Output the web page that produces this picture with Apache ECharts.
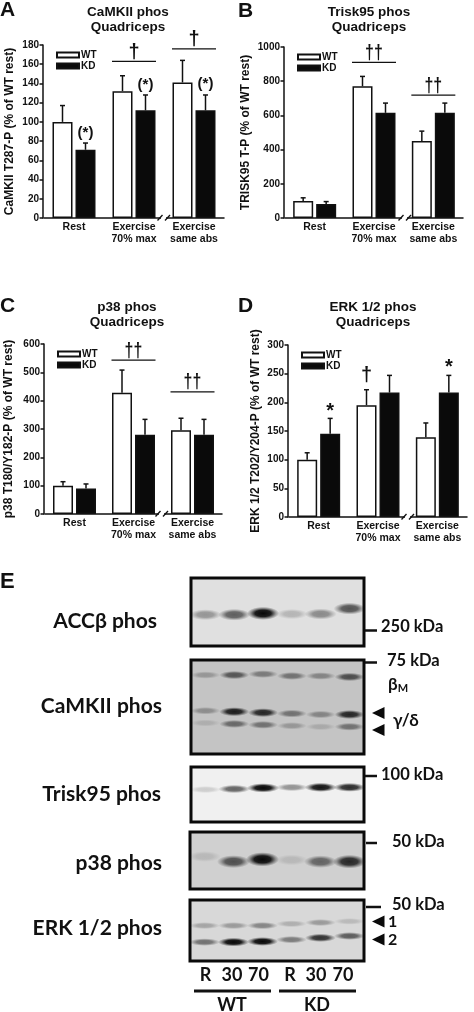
<!DOCTYPE html>
<html>
<head>
<meta charset="utf-8">
<style>html,body{margin:0;padding:0;background:#fff}#c{width:474px;height:1012px}</style>
<script src="https://cdn.jsdelivr.net/npm/echarts@6/dist/echarts.min.js"></script>
</head>
<body>
<div id="c"></div>
<script>
// ---------- bar chart data ----------
const groupLabels = ['Rest', 'Exercise\n70% max', 'Exercise\nsame abs'];

const aWT = [100, 132, 141], aKD = [71, 112, 112];
const aWTerr = [117, 148, 164], aKDerr = [78, 128, 128];
const bWT = [100, 770, 450], bKD = [82, 615, 615];
const bWTerr = [118, 828, 508], bKDerr = [96, 672, 672];
const cWT = [100, 428, 296], cKD = [90, 280, 280];
const cWTerr = [114, 508, 338], cKDerr = [106, 334, 334];
const dWT = [100, 195, 139], dKD = [145, 217, 217];
const dWTerr = [112, 222, 164], dKDerr = [172, 247, 247];

// significance lines: [group, value, text]
const aLines = [[1, 163, '†'], [2, 176, '†']];
const bLines = [[1, 910, '††'], [2, 719, '††']];
const cLines = [[1, 543, '††'], [2, 431, '††']];
const dLines = [];
// marks over a bar: [group, side, value, text]
const aMarks = [[0, 1, 89, '(*)'], [1, 1, 139, '(*)'], [2, 1, 140, '(*)']];
const bMarks = [];
const cMarks = [];
const dMarks = [[0, 1, 190, '*'], [1, -1, 246, '†'], [2, 1, 266, '*']];

// ---------- blot data: one row per band row, six lanes ----------
const laneLabels = ['R', '30', '70', 'R', '30', '70'];
const accPos = [46, 46, 48, 47, 47, 55];
const accInt = [0.35, 0.6, 1, 0.2, 0.4, 0.65];
const camTopPos = [84, 84, 85, 83, 83, 82];
const camTopInt = [0.25, 0.6, 0.4, 0.45, 0.35, 0.65];
const camMidPos = [46, 45, 44, 43, 42, 42];
const camMidInt = [0.3, 0.9, 0.85, 0.45, 0.35, 0.85];
const camLowPos = [33, 32, 31, 30, 29, 29];
const camLowInt = [0.12, 0.5, 0.45, 0.25, 0.15, 0.45];
const triskPos = [59, 60, 62, 63, 63, 63];
const triskInt = [0.15, 0.6, 1, 0.4, 0.95, 0.85];
const p38Pos = [57, 48, 52, 51, 48, 48];
const p38Int = [0.12, 0.65, 1, 0.12, 0.55, 0.85];
const erkUpPos = [58, 58, 58, 61, 63, 65];
const erkUpInt = [0.25, 0.3, 0.4, 0.2, 0.3, 0.15];
const erkLowPos = [31, 31, 32, 35, 38, 41];
const erkLowInt = [0.5, 1, 1, 0.45, 0.8, 0.6];

// ---------- layout ----------
const AR = '"Liberation Sans", Arial, sans-serif';
const CAL = 'Lato, "Noto Sans", sans-serif';
const panels = [
  {g:{left:44, top:45, width:180, height:173}, max:180, step:20, name:'CaMKII T287-P (% of WT rest)', gap:27,
   wt:aWT, kd:aKD, we:aWTerr, ke:aKDerr, lines:aLines, marks:aMarks,
   leg:{left:56, top:50}, title:'CaMKII phos\nQuadriceps', tx:128, ty:5, letter:'A', lx:0, ly:3, brk:[164,218]},
  {g:{left:285, top:47, width:178, height:171}, max:1000, step:200, name:'TRISK95 T-P (% of WT rest)', gap:32,
   wt:bWT, kd:bKD, we:bWTerr, ke:bKDerr, lines:bLines, marks:bMarks,
   leg:{left:297, top:52}, title:'Trisk95 phos\nQuadriceps', tx:369, ty:5, letter:'B', lx:238, ly:4, brk:[405,218]},
  {g:{left:45, top:344, width:177, height:170}, max:600, step:100, name:'p38 T180/Y182-P (% of WT rest)', gap:29,
   wt:cWT, kd:cKD, we:cWTerr, ke:cKDerr, lines:cLines, marks:cMarks,
   leg:{left:57, top:349}, title:'p38 phos\nQuadriceps', tx:127, ty:300, letter:'C', lx:0, ly:299, brk:[162,514]},
  {g:{left:289, top:345, width:178, height:172}, max:300, step:50, name:'ERK 1/2 T202/Y204-P (% of WT rest)', gap:26,
   wt:dWT, kd:dKD, we:dWTerr, ke:dKDerr, lines:dLines, marks:dMarks,
   leg:{left:301, top:350}, title:'ERK 1/2 phos\nQuadriceps', tx:373, ty:300, letter:'D', lx:238, ly:299, brk:[408,517]}
];

const BAR_OFF = 11.5;

function errSeries(idx, vals, tops, side) {
  return {
    type:'custom', coordinateSystem:'cartesian2d', xAxisIndex:idx, yAxisIndex:idx, z:1, clip:false, silent:true,
    data: tops.map((t, i) => [i, t, vals[i]]),
    renderItem(params, api) {
      const top = api.coord([api.value(0), api.value(1)]);
      const base = api.coord([api.value(0), api.value(2)]);
      const x = top[0] + side * BAR_OFF;
      const st = {stroke:'#111', lineWidth:1.5, fill:null};
      return {type:'group', children:[
        {type:'line', shape:{x1:x, y1:base[1], x2:x, y2:top[1]}, style:st},
        {type:'line', shape:{x1:x-2.5, y1:top[1], x2:x+2.5, y2:top[1]}, style:st}
      ]};
    }
  };
}
function lineSeries(idx, rows) {
  return {
    type:'custom', coordinateSystem:'cartesian2d', xAxisIndex:idx, yAxisIndex:idx, z:3, clip:false, silent:true,
    data: rows.map(r => [r[0], r[1]]),
    renderItem(params, api) {
      const p = api.coord([api.value(0), api.value(1)]);
      const text = rows[params.dataIndex][2];
      return {type:'group', children:[
        {type:'line', shape:{x1:p[0]-22, y1:p[1], x2:p[0]+22, y2:p[1]}, style:{stroke:'#111', lineWidth:1.3, fill:null}},
        {type:'text', x:p[0], y:p[1]+1, scaleX:text.length > 1 ? 0.8 : 1, style:{text, fill:'#111', font:'bold 20px '+AR, align:'center', verticalAlign:'bottom'}}
      ]};
    }
  };
}
function markSeries(idx, rows) {
  return {
    type:'custom', coordinateSystem:'cartesian2d', xAxisIndex:idx, yAxisIndex:idx, z:3, clip:false, silent:true,
    data: rows.map(r => [r[0], r[2]]),
    renderItem(params, api) {
      const p = api.coord([api.value(0), api.value(1)]);
      const r = rows[params.dataIndex];
      const star = r[3] === '*';
      const big = r[3] === '*' || r[3] === '†';
      return {type:'text', x:p[0]+r[1]*BAR_OFF, y:p[1]+(star?3:0), style:{text:r[3], fill:'#111', font:'bold '+(big?20:15)+'px '+AR, align:'center', verticalAlign:'middle'}};
    }
  };
}

const grids = [], xAxes = [], yAxes = [], series = [], legends = [], titles = [], gfx = [];

panels.forEach((p, i) => {
  grids.push(p.g);
  xAxes.push({type:'category', gridIndex:i, data:groupLabels,
    axisLine:{lineStyle:{color:'#111', width:1.5}}, axisTick:{show:false},
    axisLabel:{color:'#111', fontFamily:AR, fontWeight:'bold', fontSize:10.5, lineHeight:12, margin:3, interval:0}});
  yAxes.push({type:'value', gridIndex:i, min:0, max:p.max, interval:p.step, splitLine:{show:false}, offset:1,
    name:p.name, nameLocation:'middle', nameGap:p.gap,
    nameTextStyle:{color:'#111', fontFamily:AR, fontWeight:'bold', fontSize:12},
    axisLine:{show:true, lineStyle:{color:'#111', width:1.5}},
    axisTick:{show:true, length:3.5, lineStyle:{color:'#111', width:1.5}},
    axisLabel:{color:'#111', fontFamily:AR, fontWeight:'bold', fontSize:10, margin:4, formatter:v => String(v)}});
  series.push({name:'WT', type:'bar', xAxisIndex:i, yAxisIndex:i, data:p.wt, barWidth:20, barGap:'15%', z:2,
    itemStyle:{color:'#fff', borderColor:'#111', borderWidth:1.5}});
  series.push({name:'KD', type:'bar', xAxisIndex:i, yAxisIndex:i, data:p.kd, barWidth:20, barGap:'15%', z:2,
    itemStyle:{color:'#0a0a0a', borderColor:'#111', borderWidth:1.5}});
  series.push(errSeries(i, p.wt, p.we, -1), errSeries(i, p.kd, p.ke, 1));
  if (p.lines.length) series.push(lineSeries(i, p.lines));
  if (p.marks.length) series.push(markSeries(i, p.marks));
  legends.push({data:['WT','KD'], orient:'vertical', left:p.leg.left, top:p.leg.top, padding:0, itemWidth:22, itemHeight:5,
    itemGap:1, selectedMode:false, icon:'rect', textStyle:{color:'#111', fontFamily:AR, fontWeight:'bold', fontSize:10, padding:[0,0,0,-3]}});
  titles.push({text:p.title, left:p.tx, top:p.ty, textAlign:'center', padding:0,
    textStyle:{color:'#111', fontFamily:AR, fontWeight:'bold', fontSize:13.5, lineHeight:15}});
  gfx.push({type:'text', left:p.lx, top:p.ly-3, style:{text:p.letter, fill:'#111', font:'bold 21px '+AR}});
  // axis break
  const [bx, by] = p.brk;
  gfx.push({type:'rect', shape:{x:bx-3, y:by-1.5, width:5, height:3}, style:{fill:'#fff'}, z:5});
  gfx.push({type:'line', shape:{x1:bx-6.5, y1:by+2.5, x2:bx-1.5, y2:by-3}, style:{stroke:'#111', lineWidth:1.3}, z:6});
  gfx.push({type:'line', shape:{x1:bx+1, y1:by+2.5, x2:bx+6, y2:by-3}, style:{stroke:'#111', lineWidth:1.3}, z:6});
});

// ---------- blots ----------
const blots = [
  {box:[191,578,173,68],  bg:'#e0e0e0', w:32, h:12, rows:[[accPos, accInt]]},
  {box:[191,660,173,94],  bg:'#c4c4c4', w:30, h:8.5, rows:[[camTopPos, camTopInt],[camMidPos, camMidInt],[camLowPos, camLowInt]]},
  {box:[191,767,173,55],  bg:'#f0f0f0', w:32, h:8.5, rows:[[triskPos, triskInt]]},
  {box:[190,832,174,57],  bg:'#d0d0d0', w:33, h:13, rows:[[p38Pos, p38Int]]},
  {box:[190,900,174,61],  bg:'#d8d8d8', w:31, h:8, rows:[[erkUpPos, erkUpInt],[erkLowPos, erkLowInt]]}
];
function bandFill(i) {
  const c = a => 'rgba(8,8,8,' + a + ')';
  return {type:'radial', x:0.5, y:0.5, r:0.5, colorStops:[
    {offset:0, color:c(i)}, {offset:0.5, color:c(i * 0.9)}, {offset:0.78, color:c(i * 0.35)}, {offset:1, color:c(0)}]};
}
blots.forEach((b, k) => {
  const idx = panels.length + k;
  grids.push({left:b.box[0], top:b.box[1], width:b.box[2], height:b.box[3], show:true, backgroundColor:b.bg, borderColor:'#0a0a0a', borderWidth:3});
  xAxes.push({type:'category', gridIndex:idx, data:laneLabels, show:false});
  yAxes.push({type:'value', gridIndex:idx, min:0, max:100, show:false, splitLine:{show:false}});
  b.rows.forEach(([pos, ints]) => {
    series.push({type:'scatter', xAxisIndex:idx, yAxisIndex:idx, silent:true, symbol:'circle', clip:true, z:2,
      data: pos.map((v, j) => ({
        value:[j, v],
        symbolSize:[b.w, b.h * (0.8 + 0.3 * ints[j])],
        itemStyle:{color:bandFill(ints[j]), opacity:1}
      }))});
  });
});

function t(text, x, y, size, align) {
  gfx.push({type:'text', x, y, style:{text, fill:'#111', font:'bold '+size+'px '+CAL, align:align||'left', verticalAlign:'middle'}});
}
function tick(x1, x2, y) { gfx.push({type:'line', shape:{x1, y1:y, x2, y2:y}, style:{stroke:'#111', lineWidth:2.5}}); }
function arrow(x, y) {
  gfx.push({type:'polygon', shape:{points:[[x, y],[x+12.5, y-6],[x+12.5, y+6]]}, style:{fill:'#0a0a0a'}});
}

gfx.push({type:'text', left:0, top:571, style:{text:'E', fill:'#111', font:'bold 22px '+AR}});
t('ACCβ phos', 157, 621.5, 21, 'right');
t('CaMKII phos', 162, 706, 21, 'right');
t('Trisk95 phos', 161, 794, 21, 'right');
t('p38 phos', 162, 863, 21, 'right');
t('ERK 1/2 phos', 162, 928, 21, 'right');

t('250 kDa', 381, 627, 16.5); tick(365, 377, 630.5);
t('75 kDa', 387, 661, 16.5);  tick(365, 377, 662.5);
gfx.push({type:'text', x:388, y:685, style:{text:'{a|β}{b|M}', verticalAlign:'middle', rich:{
  a:{font:'bold 17px '+CAL, fill:'#111'}, b:{font:'bold 11px '+CAL, fill:'#111', padding:[6,0,0,0]}}}});
arrow(372, 713); arrow(372, 730);
t('γ/δ', 393, 721, 17);
t('100 kDa', 381, 775, 16.5); tick(365, 377, 776);
t('50 kDa', 392, 842, 16.5);  tick(366, 377, 843);
t('50 kDa', 392, 905, 16.5);  tick(366, 381, 907);
arrow(372, 921.5); arrow(372, 939.5);
t('1', 388, 922, 16); t('2', 388, 940, 16);

const laneX = [205.5, 232, 258.5, 290, 316, 343];
laneLabels.forEach((s, i) => t(s, laneX[i], 975.5, 18, 'center'));
gfx.push({type:'line', shape:{x1:194, y1:991, x2:271, y2:991}, style:{stroke:'#111', lineWidth:3}});
gfx.push({type:'line', shape:{x1:279, y1:991, x2:356, y2:991}, style:{stroke:'#111', lineWidth:3}});
t('WT', 232, 1005, 18, 'center');
t('KD', 317, 1005, 18, 'center');

const chart = echarts.init(document.getElementById('c'), null, {renderer:'canvas', width:474, height:1012, devicePixelRatio:1});
chart.setOption({
  animation:false, backgroundColor:'#fff',
  title:titles, legend:legends, grid:grids, xAxis:xAxes, yAxis:yAxes, series, graphic:{elements:gfx}
});
</script>
</body>
</html>
